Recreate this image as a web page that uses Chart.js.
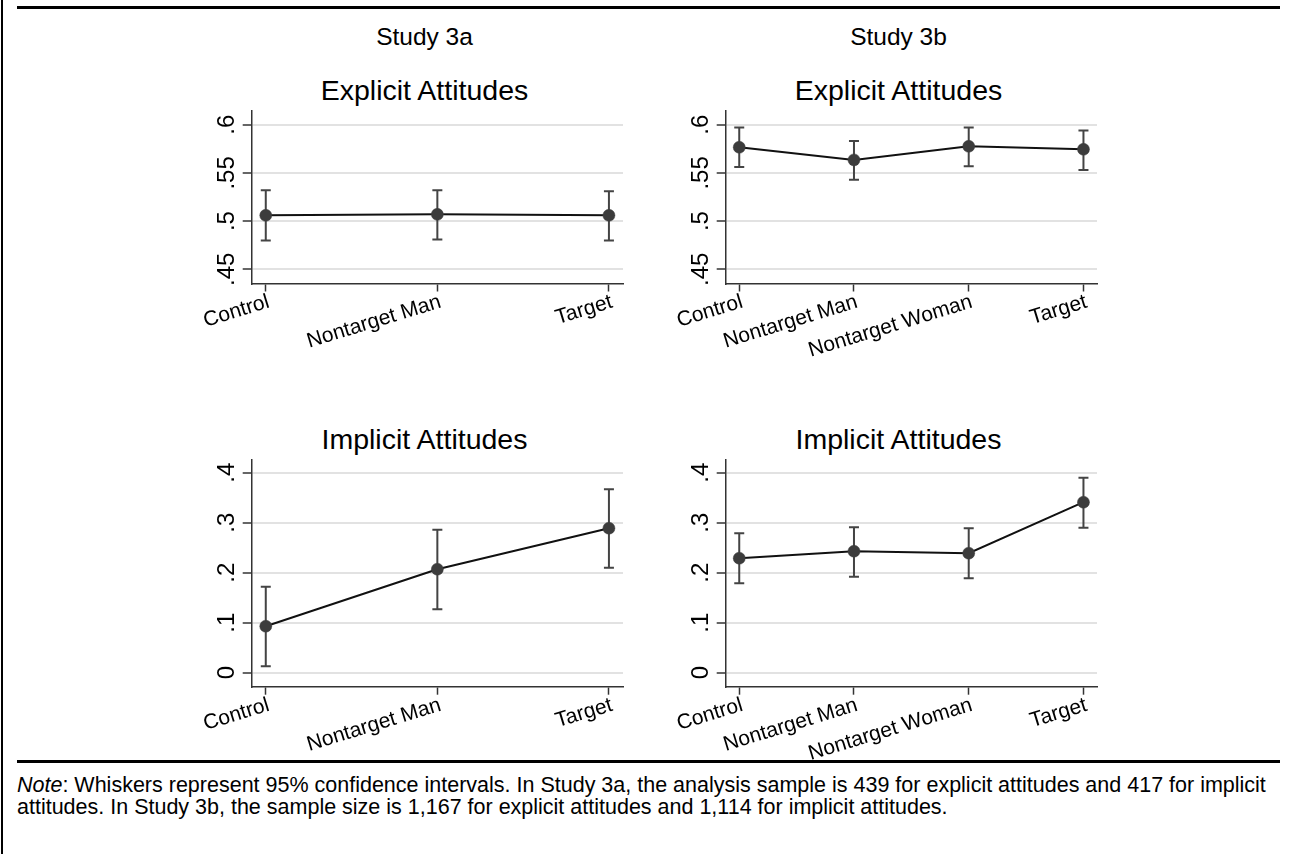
<!DOCTYPE html>
<html>
<head>
<meta charset="utf-8">
<script src="https://cdn.jsdelivr.net/npm/chart.js@4.4.1/dist/chart.umd.min.js"></script>
<style>
  body { margin: 0; background: #fff; }
  #page { position: relative; width: 1292px; height: 854px; overflow: hidden; background: #fff;
          font-family: "Liberation Sans", Arial, Helvetica, sans-serif; color: #000; }
  canvas { position: absolute; }
  .title { position: absolute; width: 400px; text-align: center; line-height: 28px; white-space: nowrap; }
  .study { font-size: 24.5px; }
  .panel { font-size: 28.5px; }
  .rule { position: absolute; background: #000; }
  #note { position: absolute; left: 17px; top: 774px; font-size: 21.5px; line-height: 22px; white-space: nowrap; }
</style>
</head>
<body>
<div id="page">
  <div class="rule" style="left:1px; top:0; width:2px; height:854px;"></div>
  <div class="rule" style="left:17px; top:6px; width:1263px; height:3px;"></div>
  <div class="rule" style="left:17px; top:760px; width:1263px; height:3px;"></div>

  <div class="title study" style="left:224.5px; top:22.5px;">Study 3a</div>
  <div class="title study" style="left:698.5px; top:22.5px;">Study 3b</div>
  <div class="title panel" style="left:224.5px; top:76px;">Explicit Attitudes</div>
  <div class="title panel" style="left:698.5px; top:76px;">Explicit Attitudes</div>
  <div class="title panel" style="left:224.5px; top:425px;">Implicit Attitudes</div>
  <div class="title panel" style="left:698.5px; top:425px;">Implicit Attitudes</div>

  <canvas id="expA" width="510" height="280" style="left:130px; top:100px;"></canvas>
  <canvas id="expB" width="510" height="280" style="left:604px; top:100px;"></canvas>
  <canvas id="impA" width="510" height="320" style="left:130px; top:450px;"></canvas>
  <canvas id="impB" width="510" height="320" style="left:604px; top:450px;"></canvas>

  <div id="note"><i>Note</i>: Whiskers represent 95% confidence intervals. In Study 3a, the analysis sample is 439 for explicit attitudes and 417 for implicit<br>attitudes. In Study 3b, the sample size is 1,167 for explicit attitudes and 1,114 for implicit attitudes.</div>
</div>

<script>
// categories
const catsA = ['Control', 'Nontarget Man', 'Target'];
const catsB = ['Control', 'Nontarget Man', 'Nontarget Woman', 'Target'];

// Study 3a, explicit attitudes: means and 95% CI
const explicitA = [0.506, 0.507, 0.506];
const explicitALo = [0.480, 0.481, 0.480];
const explicitAHi = [0.532, 0.532, 0.531];

// Study 3b, explicit attitudes
const explicitB = [0.5766, 0.5635, 0.5776, 0.5745];
const explicitBLo = [0.556, 0.543, 0.557, 0.553];
const explicitBHi = [0.597, 0.583, 0.597, 0.594];

// Study 3a, implicit attitudes
const implicitA = [0.093, 0.207, 0.289];
const implicitALo = [0.013, 0.127, 0.210];
const implicitAHi = [0.172, 0.286, 0.367];

// Study 3b, implicit attitudes
const implicitB = [0.229, 0.243, 0.239, 0.341];
const implicitBLo = [0.179, 0.192, 0.189, 0.290];
const implicitBHi = [0.279, 0.291, 0.289, 0.390];

// y ticks (Stata style labels)
const explicitTicks = [0.45, 0.5, 0.55, 0.6];
const explicitTickLabels = ['.45', '.5', '.55', '.6'];
const implicitTicks = [0, 0.1, 0.2, 0.3, 0.4];
const implicitTickLabels = ['0', '.1', '.2', '.3', '.4'];

const FONT = '"Liberation Sans", Arial, Helvetica, sans-serif';

// 95% CI whiskers, drawn under the markers
const whiskers = {
  id: 'whiskers',
  beforeDatasetsDraw(chart, args, opts) {
    const { ctx, scales: { x, y } } = chart;
    ctx.save();
    ctx.strokeStyle = '#444';
    ctx.lineWidth = 2;
    opts.lo.forEach((lo, i) => {
      const px = x.getPixelForValue(i);
      const top = y.getPixelForValue(opts.hi[i]);
      const bot = y.getPixelForValue(lo);
      ctx.beginPath();
      ctx.moveTo(px, top); ctx.lineTo(px, bot);
      ctx.moveTo(px - 5, top); ctx.lineTo(px + 5, top);
      ctx.moveTo(px - 5, bot); ctx.lineTo(px + 5, bot);
      ctx.stroke();
    });
    ctx.restore();
  }
};

// vertical y tick labels (Chart.js can't rotate them on a vertical axis)
const yLabels = {
  id: 'yLabels',
  afterDraw(chart, args, opts) {
    const { ctx, scales: { y } } = chart;
    ctx.save();
    ctx.font = '24px ' + FONT;
    ctx.fillStyle = '#000';
    ctx.textAlign = 'center';
    ctx.textBaseline = 'alphabetic';
    y.ticks.forEach((t, i) => {
      ctx.save();
      ctx.translate(y.right - 18, y.getPixelForValue(t.value));
      ctx.rotate(-Math.PI / 2);
      ctx.fillText(opts.labels[i], 0, 0);
      ctx.restore();
    });
    ctx.restore();
  }
};

function makePanel(id, cats, vals, lo, hi, ticks, tickLabels, yMin, yMax, off, padTop, xh) {
  new Chart(document.getElementById(id), {
    type: 'line',
    data: {
      datasets: [{
        data: vals.map((v, i) => ({ x: i, y: v })),
        borderColor: '#111',
        borderWidth: 2,
        pointRadius: 6,
        pointBackgroundColor: '#3c3c3c',
        pointBorderColor: '#3c3c3c',
        pointBorderWidth: 0.5,
        tension: 0
      }]
    },
    options: {
      responsive: false,
      animation: false,
      layout: { padding: { top: padTop, right: 17, left: 0, bottom: 0 } },
      plugins: {
        legend: { display: false },
        tooltip: { enabled: false },
        whiskers: { lo: lo, hi: hi },
        yLabels: { labels: tickLabels }
      },
      scales: {
        x: {
          type: 'linear',
          min: -off,
          max: cats.length - 1 + off,
          afterBuildTicks: s => { s.ticks = cats.map((c, i) => ({ value: i })); },
          afterFit: s => { s.height = xh; },
          ticks: {
            autoSkip: false, minRotation: 17, maxRotation: 17, padding: -2, labelOffset: 3,
            color: '#000', font: { family: FONT, size: 21 },
            callback: v => cats[v]
          },
          grid: { drawOnChartArea: false, tickLength: 8, tickColor: '#333', tickWidth: 1.5 },
          border: { color: '#333', width: 1.5 }
        },
        y: {
          min: yMin,
          max: yMax,
          afterBuildTicks: s => { s.ticks = ticks.map(v => ({ value: v })); },
          afterFit: s => { s.width = 121.7; },
          ticks: { display: false },
          grid: { color: '#e2e2e2', lineWidth: 2, tickLength: 9, tickColor: '#333', tickWidth: 1.5 },
          border: { color: '#333', width: 1.5 }
        }
      }
    },
    plugins: [whiskers, yLabels]
  });
}

makePanel('expA', catsA, explicitA, explicitALo, explicitAHi, explicitTicks, explicitTickLabels, 0.4353, 0.6142, 0.082, 11, 96.5);
makePanel('expB', catsB, explicitB, explicitBLo, explicitBHi, explicitTicks, explicitTickLabels, 0.4353, 0.6142, 0.118, 11, 96.5);
makePanel('impA', catsA, implicitA, implicitALo, implicitAHi, implicitTicks, implicitTickLabels, -0.028, 0.4268, 0.082, 9.3, 83.3);
makePanel('impB', catsB, implicitB, implicitBLo, implicitBHi, implicitTicks, implicitTickLabels, -0.028, 0.4268, 0.118, 9.3, 83.3);
</script>
</body>
</html>
